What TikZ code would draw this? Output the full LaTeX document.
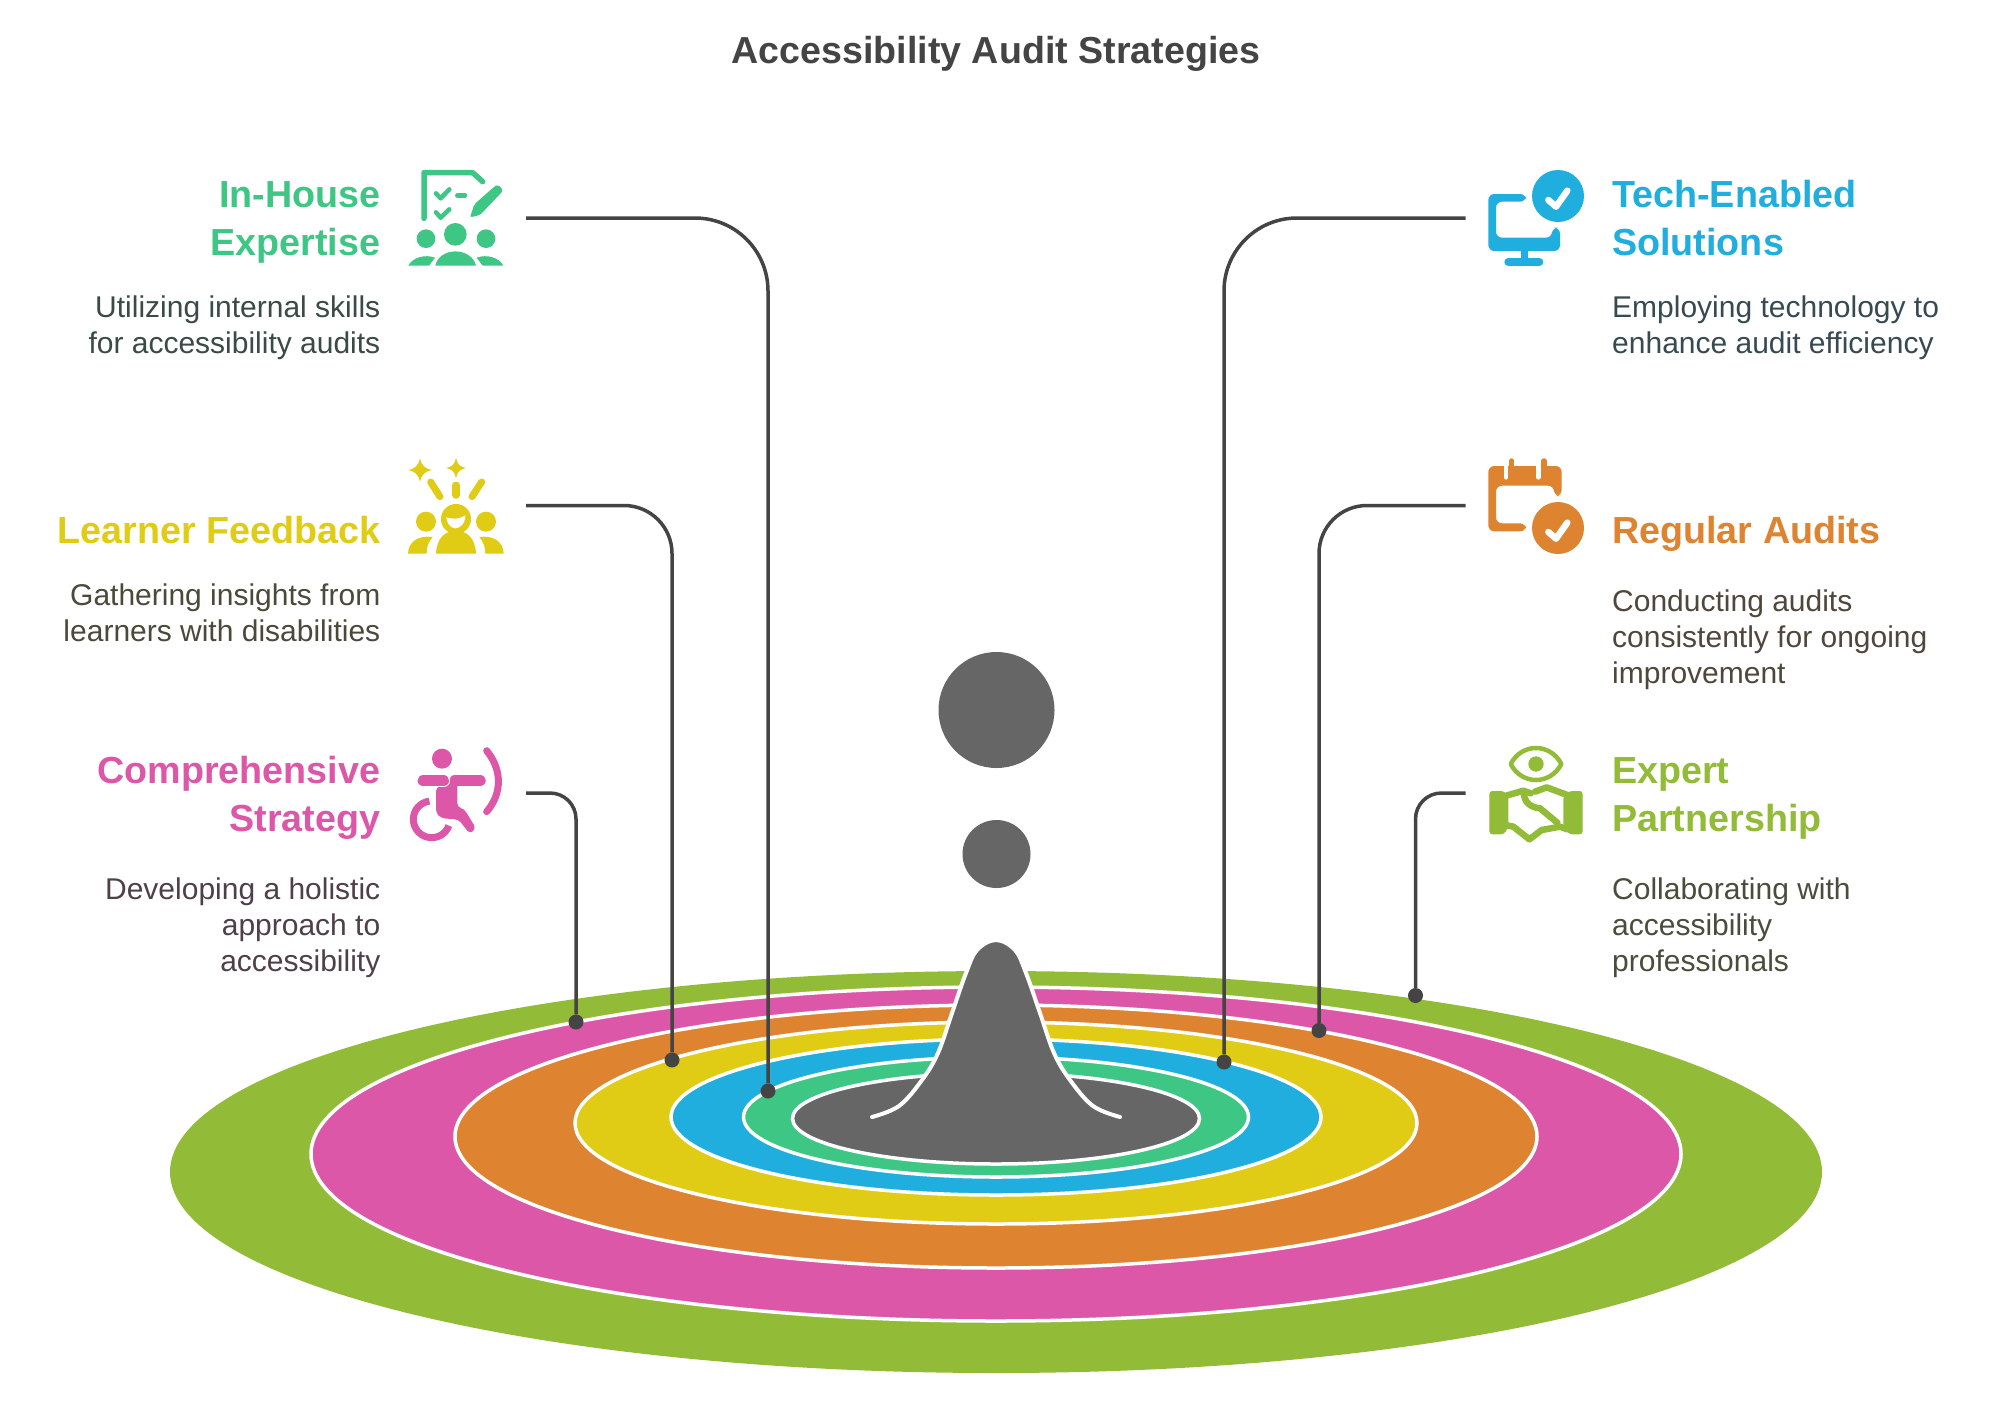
\documentclass[tikz,border=0pt]{standalone}
\usepackage{fontspec}
\setmainfont{Liberation Sans}
\definecolor{cgreen}{HTML}{3EC684}
\definecolor{cyellow}{HTML}{E0CC14}
\definecolor{cpink}{HTML}{DD57A9}
\definecolor{cblue}{HTML}{1FAEDD}
\definecolor{corange}{HTML}{DE8330}
\definecolor{colive}{HTML}{92BC37}
\definecolor{cdrop}{HTML}{666666}
\definecolor{cline}{HTML}{444444}
\definecolor{tleftA}{HTML}{3A4A45}
\definecolor{tleftB}{HTML}{4A4A3A}
\definecolor{tleftC}{HTML}{4F4048}
\definecolor{trightA}{HTML}{374A52}
\definecolor{trightB}{HTML}{4F463C}
\definecolor{trightC}{HTML}{4A4D3C}
\newcommand{\firstline}{\rule{0pt}{30pt}}
\tikzset{
  ring/.style={fill=#1,draw=white,line width=3.5pt},
  head/.style={text=#1,inner sep=0pt,font=\fontsize{37.7}{48}\selectfont\bfseries},
  body/.style={text=#1,inner sep=0pt,font=\fontsize{30}{36}\selectfont},
  lefttext/.style={anchor=north east,align=right},
  righttext/.style={anchor=north west,align=left},
  conn/.style={draw=cline,line width=3.5pt},
  dotnode/.style={circle,fill=cline,inner sep=0pt,minimum size=15pt},
  icon/.style={x=0.33333pt,y=-0.33333pt,line cap=round,line join=round}
}
\begin{document}
\begin{tikzpicture}[x=1pt,y=-1pt]
\useasboundingbox (0,0) rectangle (2016,1425);
\fill[white] (0,0) rectangle (2016,1425);

% title
\node[anchor=base,inner sep=0pt,text=cline,font=\fontsize{37.6}{46}\selectfont\bfseries] (title) at (996,63) {Accessibility Audit Strategies};

% rings
\fill[colive] (996,1172) ellipse[x radius=826pt,y radius=201pt];
\path[ring=cpink] (996,1154) ellipse[x radius=685pt,y radius=167pt];
\path[ring=corange] (996,1136.5) ellipse[x radius=541pt,y radius=131.5pt];
\path[ring=cyellow] (996,1123) ellipse[x radius=421pt,y radius=101pt];
\path[ring=cblue] (996,1117) ellipse[x radius=325pt,y radius=78pt];
\path[ring=cgreen] (996,1117) ellipse[x radius=252.5pt,y radius=60pt];
\path[ring=cdrop] (996,1118.5) ellipse[x radius=203.5pt,y radius=45.5pt];

% drop
\fill[cdrop] plot[smooth,tension=.6] coordinates {(872,1117)(899,1106)(922,1080)(938,1053)(952,1013)(966,973)(977,950)(996,940)(1015,950)(1026,973)(1040,1013)(1054,1053)(1070,1080)(1093,1106)(1120,1117)} -- cycle;
\draw[white,line width=4pt,line cap=round] plot[smooth,tension=.6] coordinates {(872,1117)(899,1106)(922,1080)(938,1053)(952,1013)(966,973)(977,950)(996,940)(1015,950)(1026,973)(1040,1013)(1054,1053)(1070,1080)(1093,1106)(1120,1117)};
\fill[cdrop] (996.5,710) circle[radius=58pt];
\fill[cdrop] (996.5,854) circle[radius=34pt];

% connectors
\coordinate (s1) at (526,218);
\coordinate (s2) at (526,505.5);
\coordinate (s3) at (526,793);
\coordinate (t1) at (1465.5,218);
\coordinate (t2) at (1465.5,505.5);
\coordinate (t3) at (1465.5,793);
\node[dotnode] (d1) at (768,1091) {};
\node[dotnode] (d2) at (672,1060) {};
\node[dotnode] (d3) at (576,1022) {};
\node[dotnode] (e1) at (1224,1062) {};
\node[dotnode] (e2) at (1319,1030.5) {};
\node[dotnode] (e3) at (1415.5,995.5) {};
\draw[conn,rounded corners=73pt] (s1) -- (s1 -| d1) -- (d1);
\draw[conn,rounded corners=48pt] (s2) -- (s2 -| d2) -- (d2);
\draw[conn,rounded corners=26pt] (s3) -- (s3 -| d3) -- (d3);
\draw[conn,rounded corners=73pt] (t1) -- (t1 -| e1) -- (e1);
\draw[conn,rounded corners=48pt] (t2) -- (t2 -| e2) -- (e2);
\draw[conn,rounded corners=26pt] (t3) -- (t3 -| e3) -- (e3);

% left texts
\node[head=cgreen,lefttext] (h1) at (380.5,177) {\firstline In-House\\Expertise};
\node[body=tleftA,lefttext] (b1) at (380.5,287) {\firstline Utilizing internal skills\\for accessibility audits};
\node[head=cyellow,lefttext] (h2) at (380.5,513) {\firstline Learner Feedback};
\node[body=tleftB,lefttext] (b2) at (380.5,575) {\firstline Gathering insights from\\learners with disabilities};
\node[head=cpink,lefttext] (h3) at (380.5,753) {\firstline Comprehensive\\Strategy};
\node[body=tleftC,lefttext] (b3) at (380.5,869) {\firstline Developing a holistic\\approach to\\accessibility};

% right texts
\node[head=cblue,righttext] (r1) at (1612,177) {\firstline Tech-Enabled\\Solutions};
\node[body=trightA,righttext] (q1) at (1612,287) {\firstline Employing technology to\\enhance audit efficiency};
\node[head=corange,righttext] (r2) at (1612,513) {\firstline Regular Audits};
\node[body=trightB,righttext] (q2) at (1612,581.5) {\firstline Conducting audits\\consistently for ongoing\\improvement};
\node[head=colive,righttext] (r3) at (1612,753) {\firstline Expert\\Partnership};
\node[body=trightC,righttext] (q3) at (1612,869) {\firstline Collaborating with\\accessibility\\professionals};

% icon: in-house
\begin{scope}[shift={(380,150)},icon]
\draw[cgreen,line width=5.5pt] (132,205) -- (132,68) -- (278,68) -- (308,95);
\draw[cgreen,line width=4.5pt] (168,130) -- (182,145) -- (208,118);
\draw[cgreen,line width=4.5pt] (168,187) -- (182,203) -- (208,178);
\draw[cgreen,line width=4.5pt] (232,136) -- (255,136);
\fill[cgreen,rounded corners=2pt] (270,202) -- (283,163) -- (343,110) .. controls (355,102) and (372,118) .. (362,130) -- (300,195) -- cycle;
\fill[cgreen] (226,253) circle[radius=34];
\fill[cgreen] (138,266) circle[radius=28];
\fill[cgreen] (318,266) circle[radius=28];
\fill[cgreen] (166,347) .. controls (178,290) and (274,290) .. (288,347) -- cycle;
\fill[cgreen] (85,347) .. controls (98,322) and (135,312) .. (165,323) -- (147,347) -- cycle;
\fill[cgreen] (370,347) .. controls (357,322) and (320,312) .. (290,323) -- (308,347) -- cycle;
\end{scope}

% icon: learner feedback
\begin{scope}[shift={(380,440)},icon]
\fill[cyellow] (120,54) .. controls (124,76) and (135,87) .. (157,90) .. controls (135,93) and (124,104) .. (120,126) .. controls (116,104) and (105,93) .. (83,90) .. controls (105,87) and (116,76) .. (120,54) -- cycle;
\fill[cyellow] (228,53) .. controls (231,72) and (240,81) .. (258,84) .. controls (240,87) and (231,96) .. (228,115) .. controls (225,96) and (216,87) .. (198,84) .. controls (216,81) and (225,72) .. (228,53) -- cycle;
\draw[cyellow,line width=7pt] (152,126) -- (180,170);
\draw[cyellow,line width=7.5pt] (228,136) -- (228,165);
\draw[cyellow,line width=7pt] (305,126) -- (276,170);
\fill[cyellow] (228,237) circle[radius=45];
\fill[white] (199,232) .. controls (215,238) and (240,238) .. (256,226) .. controls (256,255) and (235,266) .. (225,265) .. controls (210,264) and (200,248) .. (199,232) -- cycle;
\fill[cyellow] (138,245) circle[radius=30];
\fill[cyellow] (318,245) circle[radius=30];
\fill[cyellow] (168,341) .. controls (170,290) and (200,272) .. (228,272) .. controls (256,272) and (286,290) .. (288,341) -- cycle;
\fill[cyellow] (84,341) .. controls (85,305) and (115,285) .. (158,291) .. controls (145,305) and (140,320) .. (140,341) -- cycle;
\fill[cyellow] (371,341) .. controls (370,305) and (340,285) .. (298,291) .. controls (310,305) and (316,320) .. (316,341) -- cycle;
\end{scope}

% icon: comprehensive
\begin{scope}[shift={(380,730)},icon]
\fill[cpink] (186,86) circle[radius=30];
\draw[cpink,line width=11.5pt] (225,152) -- (300,152);
\fill[cpink,rounded corners=4pt] (168,172) -- (232,150) -- (232,232) -- (252,236) -- (288,295) -- (270,312) -- (235,268) -- (185,265) -- (168,250) -- cycle;
\draw[white,line width=13.5pt,line cap=round] (130,152) -- (190,152);
\draw[cpink,line width=11.5pt] (130,152) -- (190,152);
\draw[cpink,line width=7pt,line cap=butt] plot[smooth,domain=263:20,samples=24] ({155+55*cos(\x)},{268+55*sin(\x)});
\draw[cpink,line width=7pt] (320,62) .. controls (367,120) and (367,190) .. (320,245);
\end{scope}

% icon: tech-enabled
\begin{scope}[shift={(1480,150)},icon]
\fill[cblue,rounded corners=6pt] (138,132) -- (25,132) -- (25,303) -- (240,303) -- (240,233) -- (216,233) -- (216,263) -- (48,263) -- (48,155) -- (138,155) -- cycle;
\fill[cblue] (122,300) rectangle (143,330);
\draw[cblue,line width=8pt] (85,336) -- (178,336);
\fill[cblue] (234,138) circle[radius=78];
\draw[white,line width=6.5pt] (205,150) -- (228,170) -- (262,122);
\end{scope}

% icon: regular audits
\begin{scope}[shift={(1480,440)},icon]
\fill[corange,rounded corners=6pt] (25,78) -- (245,78) -- (245,168) -- (222,168) -- (222,137) -- (48,137) -- (48,250) -- (138,250) -- (138,274) -- (25,274) -- cycle;
\draw[white,line width=4.5pt] (78,72) -- (78,112);
\draw[white,line width=4.5pt] (175,72) -- (175,112);
\draw[corange,line width=5.5pt] (95,63) -- (95,95);
\draw[corange,line width=5.5pt] (192,63) -- (192,95);
\fill[corange] (234,264) circle[radius=78];
\draw[white,line width=6.5pt] (205,276) -- (228,296) -- (262,248);
\end{scope}

% icon: expert partnership
\begin{scope}[shift={(1480,730)},icon]
\draw[colive,line width=4.5pt] (92,102) .. controls (125,38) and (211,38) .. (244,102) .. controls (211,166) and (125,166) .. cycle;
\fill[colive] (168,102) circle[radius=23];
\fill[colive,rounded corners=3pt] (28,183) -- (72,183) -- (85,200) -- (85,290) -- (72,313) -- (28,313) -- cycle;
\fill[colive,rounded corners=3pt] (308,183) -- (268,183) -- (250,200) -- (250,290) -- (268,313) -- (308,313) -- cycle;
\draw[colive,line width=6.5pt] (75,198) -- (130,182) -- (152,190);
\draw[colive,line width=6.5pt] (165,185) -- (200,172) -- (262,195);
\draw[colive,line width=6.5pt] (132,185) .. controls (130,215) and (150,232) .. (180,235) -- (232,278);
\draw[colive,line width=6.5pt] (75,285) -- (100,290) -- (148,328) -- (185,300) -- (240,290) -- (262,298);
\end{scope}
\end{tikzpicture}
\end{document}
